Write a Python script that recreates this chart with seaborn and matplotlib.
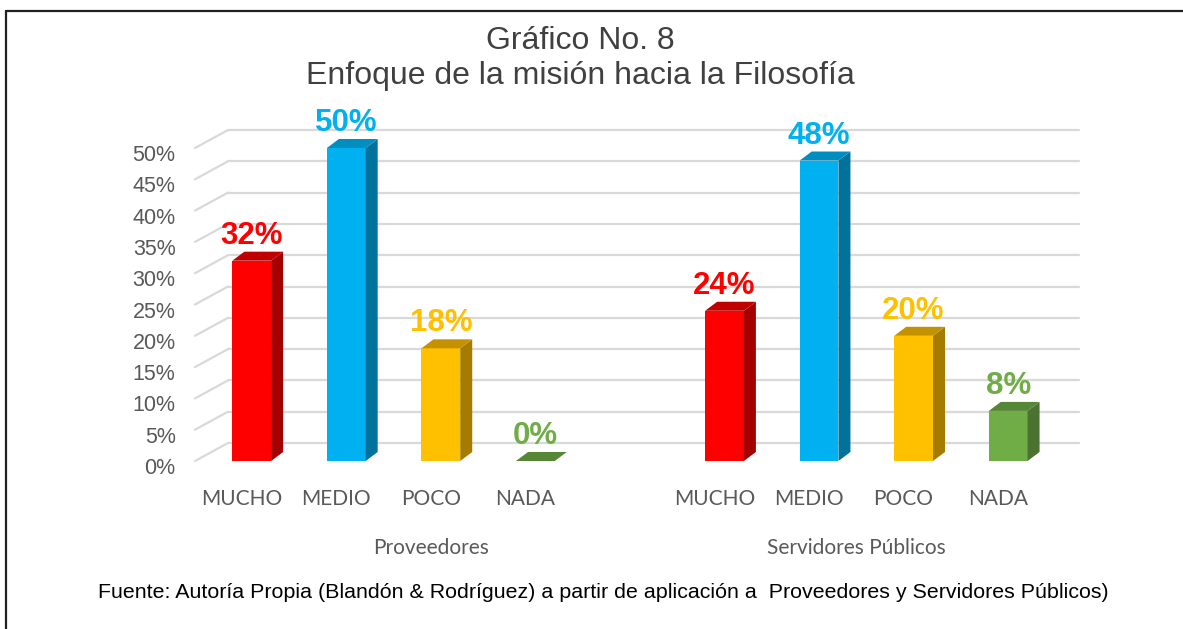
import numpy as np
import pandas as pd
import matplotlib.pyplot as plt
import seaborn as sns
from matplotlib.patches import Polygon
from matplotlib.lines import Line2D
from matplotlib.transforms import ScaledTranslation

grupos = ['Proveedores', 'Servidores Públicos']
niveles = ['MUCHO', 'MEDIO', 'POCO', 'NADA']
proveedores = [0.32, 0.50, 0.18, 0.00]
servidores = [0.24, 0.48, 0.20, 0.08]
y_ticks = [0, 0.05, 0.10, 0.15, 0.20, 0.25, 0.30, 0.35, 0.40, 0.45, 0.50]

colores = {'MUCHO': '#FF0000', 'MEDIO': '#00B0F0', 'POCO': '#FFC000', 'NADA': '#70AD47'}
lados = {'MUCHO': '#A50000', 'MEDIO': '#00729C', 'POCO': '#A67C00', 'NADA': '#4B7230'}
techos = {'MUCHO': '#C00000', 'MEDIO': '#008DC0', 'POCO': '#C49200', 'NADA': '#568736'}

# Proveedores ocupa 5 casillas (la ultima vacia), Servidores 4
filas = []
for g, vals in enumerate([proveedores, servidores]):
    for i, (n, v) in enumerate(zip(niveles, vals)):
        filas.append({'grupo': grupos[g], 'nivel': n, 'valor': v, 'pos': g * 5 + i})
df = pd.DataFrame(filas)

sns.set_style('white')
plt.rcParams['font.family'] = ['Liberation Sans', 'DejaVu Sans']

W, H = 1183, 629
fig = plt.figure(figsize=(W / 100, H / 100), dpi=100)
ax = fig.add_axes([195 / W, 1 - 461 / H, (1046 - 195) / W, 313 / H])

sns.barplot(data=df, x='pos', y='valor', hue='nivel', hue_order=niveles,
            palette=colores, native_scale=True, dodge=False, width=0.41,
            saturation=1, linewidth=0, legend=False, ax=ax)

ax.set_xlim(-0.6, 8.4)
ax.set_ylim(0, 0.5)
px_x = (1046 - 195) / 9.0
px_y = 313 / 0.5

# pared del fondo: lineas de cuadricula desplazadas
gdx, gdy = 33 / px_x, 18 / px_y
for t in y_ticks:
    ax.plot([-0.6 + gdx, 8.4 + gdx], [t + gdy, t + gdy], color='#D9D9D9', lw=1.6,
            clip_on=False, zorder=0)
    ax.plot([-0.6, -0.6 + gdx], [t, t + gdy], color='#D9D9D9', lw=1.6,
            clip_on=False, zorder=0)

# caras laterales y superiores de las barras
bdx, bdy = 12 / px_x, 9 / px_y
for cont, n in zip(ax.containers, niveles):
    for bar in cont:
        x0, w, h = bar.get_x(), bar.get_width(), bar.get_height()
        if np.isnan(h):
            continue
        side = Polygon([(x0 + w, 0), (x0 + w + bdx, bdy), (x0 + w + bdx, h + bdy), (x0 + w, h)],
                       closed=True, facecolor=lados[n], lw=0, clip_on=False, zorder=3)
        top = Polygon([(x0, h), (x0 + bdx, h + bdy), (x0 + w + bdx, h + bdy), (x0 + w, h)],
                      closed=True, facecolor=techos[n], lw=0, clip_on=False, zorder=3)
        ax.add_patch(side)
        ax.add_patch(top)
        ax.annotate(f'{h:.0%}', xy=(x0 + w / 2, h), xytext=(0, 12.2),
                    textcoords='offset points', ha='center', va='baseline',
                    color=colores[n], fontsize=22.5, fontweight='bold', annotation_clip=False)

for s in ax.spines.values():
    s.set_visible(False)
ax.grid(False)

ax.set_yticks(y_ticks)
ax.set_yticklabels([f'{t:.0%}' for t in y_ticks], color='#595959', fontsize=15.5)
ax.tick_params(axis='y', length=0, pad=14)
for lab in ax.get_yticklabels():
    lab.set_transform(lab.get_transform() + ScaledTranslation(0, -0.05, fig.dpi_scale_trans))

ax.set_xticks(df['pos'])
ax.set_xticklabels(df['nivel'], color='#595959', fontsize=15, family=['Lato', 'DejaVu Sans'])
ax.tick_params(axis='x', length=0, pad=20.5)
for lab in ax.get_xticklabels():
    lab.set_transform(lab.get_transform() + ScaledTranslation(-0.10, 0, fig.dpi_scale_trans))
ax.set_xlabel('')
ax.set_ylabel('')

# etiquetas de grupo (centro del rango de casillas de cada grupo)
for g, cx in zip(grupos, [2.0, 6.5]):
    ax.annotate(g, xy=(cx, 0), xycoords=('data', 'axes fraction'), xytext=(-10, -87),
                textcoords='offset pixels', ha='center', va='center', color='#595959',
                fontsize=15, family=['Lato', 'DejaVu Sans'], annotation_clip=False)

fig.text(580 / W, 1 - 41 / H, 'Gráfico No. 8', ha='center', va='center', fontsize=23, color='#404040')
fig.text(580 / W, 1 - 76 / H, 'Enfoque de la misión hacia la Filosofía', ha='center', va='center',
         fontsize=23, color='#404040')
fig.text(603 / W, 1 - 593 / H,
         'Fuente: Autoría Propia (Blandón & Rodríguez) a partir de aplicación a  Proveedores y Servidores Públicos)',
         ha='center', va='center', fontsize=15.4, color='black')

# marco
fig.add_artist(Line2D([6 / W, 6 / W], [0, 1 - 11 / H], color='#202020', lw=1.6))
fig.add_artist(Line2D([6 / W, 1], [1 - 11 / H, 1 - 11 / H], color='#202020', lw=1.6))

fig.savefig('out.png', dpi=100)
